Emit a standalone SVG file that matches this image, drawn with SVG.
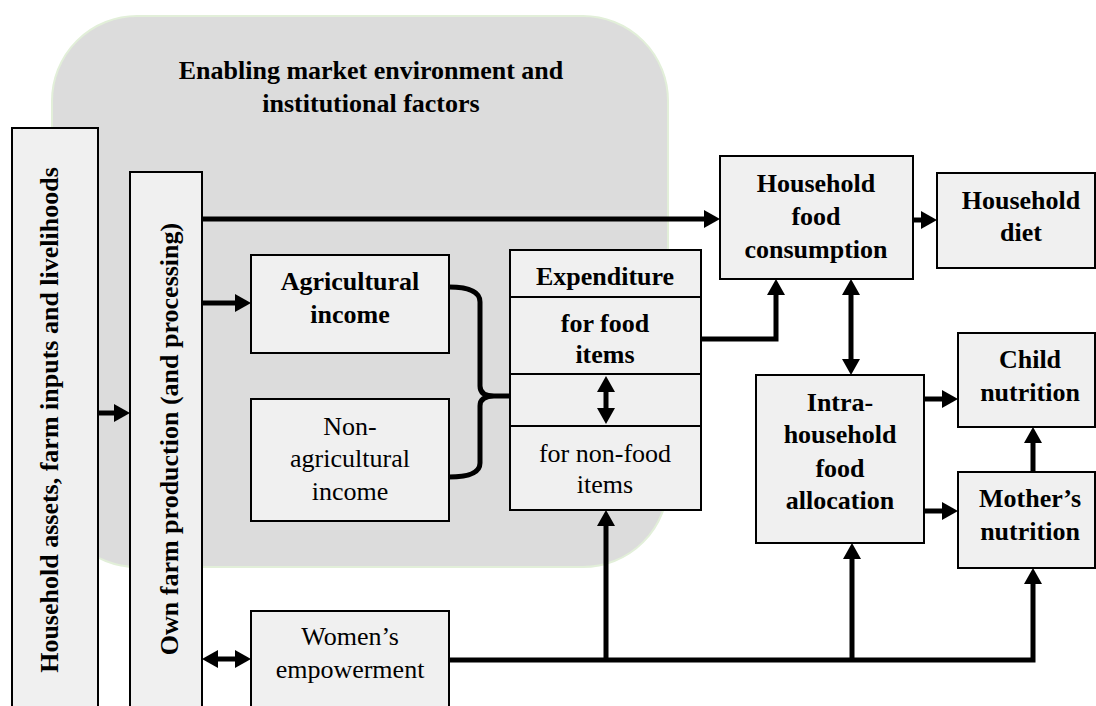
<svg xmlns="http://www.w3.org/2000/svg" width="1096" height="706" viewBox="0 0 1096 706">
<defs>
<marker id="ah" markerUnits="userSpaceOnUse" markerWidth="16" markerHeight="18" refX="8" refY="9" orient="auto-start-reverse" overflow="visible">
<path d="M0,0 L16,9 L0,18 Z" fill="#000"/>
</marker>
<style>
.bx{fill:#f0f0f0;stroke:#000;stroke-width:2}
.t{font-family:'Liberation Serif','DejaVu Serif',serif;font-size:26px;fill:#000;text-anchor:middle}
.b{font-weight:bold}
.c{fill:none;stroke:#000;stroke-width:5;stroke-linejoin:miter}
.a{marker-end:url(#ah)}
.d{marker-start:url(#ah);marker-end:url(#ah)}
</style>
</defs>
<rect width="1096" height="706" fill="#fff"/>
<g id="env">
<rect x="52" y="16" width="616" height="551" rx="85" ry="85" fill="#dcdcdc" stroke="#e2efd9" stroke-width="2"/>
<text class="t b" font-family="Liberation Serif, serif" x="371" y="79">Enabling market environment and</text>
<text class="t b" font-family="Liberation Serif, serif" x="371" y="112">institutional factors</text>
</g>
<g id="assets">
<rect class="bx" x="12" y="128" width="86" height="600"/>
<text class="t b" transform="translate(58,420) rotate(-90)">Household assets, farm inputs and livelihoods</text>
</g>
<g id="ownfarm">
<rect class="bx" x="130" y="172" width="72" height="560"/>
<text class="t b" transform="translate(178,439) rotate(-90)">Own farm production (and processing)</text>
</g>
<g id="agri">
<rect class="bx" x="251" y="255" width="198" height="98"/>
<text class="t b" x="350" y="290">Agricultural</text>
<text class="t b" x="350" y="323">income</text>
</g>
<g id="nonagri">
<rect class="bx" x="251" y="399" width="198" height="122"/>
<text class="t" x="350" y="435">Non-</text>
<text class="t" x="350" y="467">agricultural</text>
<text class="t" x="350" y="500">income</text>
</g>
<g id="women">
<rect class="bx" x="251" y="611" width="198" height="120"/>
<text class="t" x="350" y="645">Women’s</text>
<text class="t" x="350" y="678">empowerment</text>
</g>
<g id="expenditure">
<rect class="bx" x="510" y="250" width="191" height="260"/>
<line x1="510" y1="297" x2="701" y2="297" stroke="#000" stroke-width="2"/>
<line x1="510" y1="374" x2="701" y2="374" stroke="#000" stroke-width="2"/>
<line x1="510" y1="426" x2="701" y2="426" stroke="#000" stroke-width="2"/>
<text class="t b" x="605" y="285">Expenditure</text>
<text class="t b" x="605" y="332">for food</text>
<text class="t b" x="605" y="363">items</text>
<text class="t" x="605" y="462">for non-food</text>
<text class="t" x="605" y="493">items</text>
</g>
<g id="consumption">
<rect class="bx" x="720" y="156" width="193" height="123"/>
<text class="t b" x="816" y="192">Household</text>
<text class="t b" x="816" y="225">food</text>
<text class="t b" x="816" y="258">consumption</text>
</g>
<g id="diet">
<rect class="bx" x="937" y="173" width="158" height="95"/>
<text class="t b" x="1021" y="209">Household</text>
<text class="t b" x="1021" y="241">diet</text>
</g>
<g id="intra">
<rect class="bx" x="756" y="375" width="168" height="168"/>
<text class="t b" x="840" y="411">Intra-</text>
<text class="t b" x="840" y="443">household</text>
<text class="t b" x="840" y="477">food</text>
<text class="t b" x="840" y="509">allocation</text>
</g>
<g id="child">
<rect class="bx" x="958" y="333" width="137" height="94"/>
<text class="t b" x="1030" y="368">Child</text>
<text class="t b" x="1030" y="401">nutrition</text>
</g>
<g id="mother">
<rect class="bx" x="958" y="472" width="137" height="96"/>
<text class="t b" x="1030" y="507">Mother’s</text>
<text class="t b" x="1030" y="540">nutrition</text>
</g>
<g id="connectors">
<path class="c a" d="M98,413 L122,413"/>
<path class="c a" d="M202,219 L712,219"/>
<path class="c a" d="M202,303 L243,303"/>
<path class="c" d="M449,287 Q480,287 480,302 L480,386 Q480,396 494,396 L510,396 M494,396 Q480,396 480,406 L480,463 Q480,477 449,477"/>
<path class="c a" d="M701,339 L776,339 L776,287"/>
<path class="c a" d="M913,220 L929,220"/>
<path class="c d" d="M851,287 L851,367"/>
<path class="c d" d="M606,384 L606,416"/>
<path class="c a" d="M924,399 L950,399"/>
<path class="c a" d="M924,511 L950,511"/>
<path class="c a" d="M1033,472 L1033,435"/>
<path class="c a" d="M449,660 L1033,660 L1033,576"/>
<path class="c a" d="M606,660 L606,518"/>
<path class="c a" d="M852,660 L852,551"/>
<path class="c d" d="M210,659 L243,659"/>
</g>
</svg>
